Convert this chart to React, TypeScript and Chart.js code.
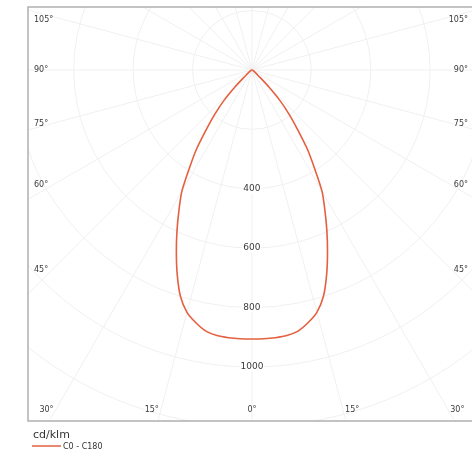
import { useEffect, useRef } from "react";
import { Chart, registerables } from "chart.js";

Chart.register(...registerables);

// Photometric data (gamma angle in degrees, intensity in cd/klm)
const GAMMA = [0, 2.5, 5, 7.5, 10, 12.5, 15, 17.5, 20, 22.5, 25, 27.5, 30, 32.5, 35, 37.5, 40, 42.5, 45, 47.5, 50, 55, 60, 65, 70, 75, 80, 85, 90];
const C0 = [906, 906, 905, 902, 893, 872, 845, 800, 735, 665, 597, 532, 472, 392, 325, 252, 195, 140, 82, 38, 18, 10, 6, 4, 3, 2, 1, 0.5, 0];
const C180 = [906, 906, 905, 902, 893, 872, 845, 800, 735, 665, 597, 532, 472, 392, 325, 252, 195, 140, 82, 38, 18, 10, 6, 4, 3, 2, 1, 0.5, 0];

const RINGS = [200, 400, 600, 800, 1000, 1200, 1400, 1600, 1800];
const RING_LABELS = [400, 600, 800, 1000];
const SIDE_ANGLES = [105, 90, 75, 60, 45];
const BOTTOM_ANGLES = [-30, -15, 0, 15, 30];
const RADIAL_STEP = 15;
const UNIT_LABEL = "cd/klm";
const SERIES_LABEL = "C0 - C180";
const CURVE_COLOR = "#e5603f";

const X_MIN = -754;
const X_MAX = 741;
const Y_MIN = -1182;
const Y_MAX = 212;

const FONT = "'DejaVu Sans', Verdana, sans-serif";

function buildCurve() {
  const pts: { x: number; y: number }[] = [];
  // C180 half on the left, from 90° down to 0°
  for (let i = GAMMA.length - 1; i >= 0; i--) {
    const g = (GAMMA[i] * Math.PI) / 180;
    pts.push({ x: -C180[i] * Math.sin(g), y: -C180[i] * Math.cos(g) });
  }
  // C0 half on the right, from 0° up to 90°
  for (let i = 1; i < GAMMA.length; i++) {
    const g = (GAMMA[i] * Math.PI) / 180;
    pts.push({ x: C0[i] * Math.sin(g), y: -C0[i] * Math.cos(g) });
  }
  return pts;
}

const polarPlugin = {
  id: "polarGrid",
  beforeDatasetsDraw(chart: any) {
    const { ctx, chartArea, scales } = chart;
    const xs = scales.x;
    const ys = scales.y;
    const cx = xs.getPixelForValue(0);
    const cy = ys.getPixelForValue(0);
    const pxPerUnit = xs.getPixelForValue(1) - cx;
    ctx.save();
    ctx.beginPath();
    ctx.rect(chartArea.left, chartArea.top, chartArea.right - chartArea.left, chartArea.bottom - chartArea.top);
    ctx.clip();
    ctx.strokeStyle = "#f0f0f0";
    ctx.lineWidth = 1;
    RINGS.forEach((r) => {
      ctx.beginPath();
      ctx.arc(cx, cy, r * pxPerUnit, 0, Math.PI * 2);
      ctx.stroke();
    });
    const maxR = 2000 * pxPerUnit;
    for (let a = 0; a < 360; a += RADIAL_STEP) {
      const t = (a * Math.PI) / 180;
      ctx.beginPath();
      ctx.moveTo(cx, cy);
      ctx.lineTo(cx + maxR * Math.sin(t), cy + maxR * Math.cos(t));
      ctx.stroke();
    }
    ctx.restore();

    // ring labels on the 0° axis
    ctx.save();
    ctx.font = `9px ${FONT}`;
    ctx.textAlign = "center";
    ctx.textBaseline = "middle";
    RING_LABELS.forEach((r) => {
      const y = ys.getPixelForValue(-r);
      const txt = String(r);
      const w = ctx.measureText(txt).width;
      ctx.fillStyle = "#ffffff";
      ctx.fillRect(cx - w / 2 - 1, y - 5, w + 2, 10);
      ctx.fillStyle = "#3a3a3a";
      ctx.fillText(txt, cx, y);
    });
    ctx.restore();

    // angle labels
    ctx.save();
    ctx.font = `8px ${FONT}`;
    ctx.fillStyle = "#3a3a3a";
    ctx.textBaseline = "middle";
    const sideDx = cx - (chartArea.left + 24);
    SIDE_ANGLES.forEach((a) => {
      const t = (a * Math.PI) / 180;
      let y = cy + sideDx / Math.tan(t);
      y = Math.max(chartArea.top + 13, y);
      ctx.textAlign = "left";
      ctx.fillText(`${a}°`, chartArea.left + 6, y);
      ctx.textAlign = "right";
      ctx.fillText(`${a}°`, chartArea.right - 4, y);
    });
    const by = chartArea.bottom - 11;
    BOTTOM_ANGLES.forEach((a) => {
      const t = (a * Math.PI) / 180;
      const x = cx + (by - cy) * Math.tan(t);
      const txt = `${Math.abs(a)}°`;
      if (a < 0) {
        ctx.textAlign = "right";
        ctx.fillText(txt, x - 2, by);
      } else if (a > 0) {
        ctx.textAlign = "left";
        ctx.fillText(txt, x + 2, by);
      } else {
        ctx.textAlign = "center";
        ctx.fillText(txt, x, by);
      }
    });
    ctx.restore();
  },
  afterDraw(chart: any) {
    const { ctx, chartArea } = chart;
    ctx.save();
    // frame
    ctx.strokeStyle = "#b0b0b0";
    ctx.lineWidth = 1.5;
    ctx.beginPath();
    ctx.moveTo(chartArea.right, chartArea.top);
    ctx.lineTo(chartArea.left, chartArea.top);
    ctx.lineTo(chartArea.left, chartArea.bottom);
    ctx.lineTo(chartArea.right, chartArea.bottom);
    ctx.stroke();
    // legend
    ctx.fillStyle = "#333333";
    ctx.font = `11px ${FONT}`;
    ctx.textAlign = "left";
    ctx.textBaseline = "middle";
    ctx.fillText(UNIT_LABEL, chartArea.left + 5, chartArea.bottom + 14);
    ctx.strokeStyle = CURVE_COLOR;
    ctx.lineWidth = 1.5;
    ctx.beginPath();
    ctx.moveTo(chartArea.left + 4, chartArea.bottom + 25);
    ctx.lineTo(chartArea.left + 33, chartArea.bottom + 25);
    ctx.stroke();
    ctx.font = `8px ${FONT}`;
    ctx.fillText(SERIES_LABEL, chartArea.left + 35, chartArea.bottom + 26);
    ctx.restore();
  },
};

export default function App() {
  const ref = useRef<HTMLCanvasElement | null>(null);
  useEffect(() => {
    if (!ref.current) return;
    const chart = new Chart(ref.current, {
      type: "scatter",
      data: {
        datasets: [
          {
            label: SERIES_LABEL,
            data: buildCurve(),
            showLine: true,
            borderColor: CURVE_COLOR,
            borderWidth: 1.6,
            pointRadius: 0,
            tension: 0.25,
            fill: false,
          },
        ],
      },
      options: {
        responsive: false,
        animation: false,
        layout: { padding: { left: 28, top: 7, right: 0, bottom: 41 } },
        plugins: { legend: { display: false }, tooltip: { enabled: false } },
        scales: {
          x: { type: "linear", display: false, min: X_MIN, max: X_MAX },
          y: { type: "linear", display: false, min: Y_MIN, max: Y_MAX },
        },
      },
      plugins: [polarPlugin],
    });
    return () => chart.destroy();
  }, []);
  return (
    <div style={{ position: "absolute", left: 0, top: 0, width: 472, height: 462, background: "#fff" }}>
      <canvas ref={ref} width={472} height={462} style={{ display: "block" }} />
    </div>
  );
}
